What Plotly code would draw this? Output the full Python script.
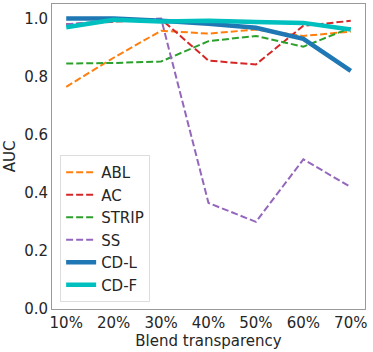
import plotly.graph_objects as go

blend = ['10%', '20%', '30%', '40%', '50%', '60%', '70%']

abl = [0.765, 0.865, 0.958, 0.948, 0.962, 0.940, 0.955]
ac = [0.980, 0.990, 0.998, 0.855, 0.842, 0.975, 0.992]
strip = [0.845, 0.847, 0.852, 0.922, 0.940, 0.903, 0.968]
ss = [0.980, 0.992, 1.000, 0.365, 0.300, 0.515, 0.420]
cd_l = [1.000, 1.000, 0.992, 0.982, 0.968, 0.930, 0.820]
cd_f = [0.970, 0.996, 0.990, 0.992, 0.988, 0.985, 0.962]

x = list(range(len(blend)))

fig = go.Figure()

dashed = [
    ('ABL', abl, '#ff7f0e'),
    ('AC', ac, '#d62728'),
    ('STRIP', strip, '#2ca02c'),
    ('SS', ss, '#9467bd'),
]
for name, vals, color in dashed:
    fig.add_trace(
        go.Scatter(
            x=x,
            y=vals,
            name=name,
            mode='lines',
            line=dict(color=color, width=2, dash='7px,3px'),
        ),
    )

fig.add_trace(
    go.Scatter(
        x=x,
        y=cd_l,
        name='CD-L',
        mode='lines',
        line=dict(color='#1f77b4', width=4.5),
    ),
)
fig.add_trace(
    go.Scatter(
        x=x,
        y=cd_f,
        name='CD-F',
        mode='lines',
        line=dict(color='#00bfbf', width=4.5),
    ),
)

fig.update_layout(
    width=373,
    height=352,
    margin=dict(l=52, r=8, t=4, b=43),
    paper_bgcolor='white',
    plot_bgcolor='white',
    font=dict(family='DejaVu Sans', size=15, color='#262626'),
    xaxis=dict(
        range=[-0.3, 6.3],
        tickvals=x,
        ticktext=blend,
        showgrid=False,
        zeroline=False,
        showline=True,
        mirror=True,
        linecolor='#999999',
        linewidth=1,
        ticks='',
        title=dict(text='Blend transparency', font=dict(size=15), standoff=2),
    ),
    yaxis=dict(
        range=[0, 1.05],
        tickvals=[0, 0.2, 0.4, 0.6, 0.8, 1.0],
        tickformat='.1f',
        showgrid=False,
        zeroline=False,
        showline=True,
        mirror=True,
        linecolor='#999999',
        linewidth=1,
        ticks='',
        title=dict(text='AUC', font=dict(size=15), standoff=4),
    ),
    legend=dict(
        x=0.026,
        y=0.023,
        xanchor='left',
        yanchor='bottom',
        bgcolor='white',
        bordercolor='#dddddd',
        borderwidth=1,
        font=dict(size=15),
        tracegroupgap=0,
    ),
)

# drop the page's default body margin so the figure sits at the window origin
fig.write_html(
    'out.html',
    config=dict(displayModeBar=False),
    post_script="document.body.style.margin='0';",
)
